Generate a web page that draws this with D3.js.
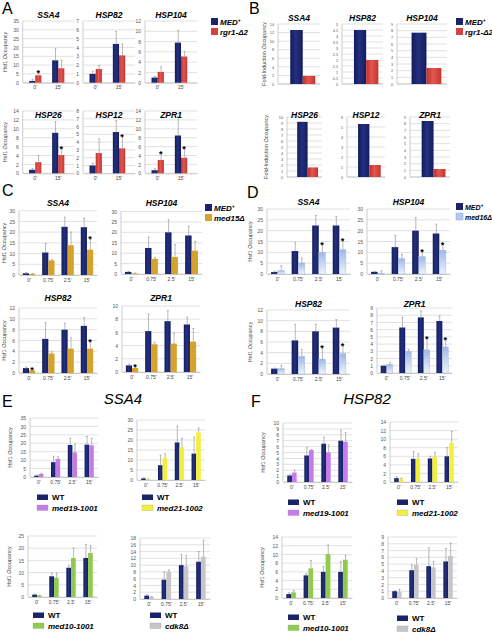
<!DOCTYPE html>
<html><head><meta charset="utf-8">
<script src="https://cdn.jsdelivr.net/npm/d3@7"></script>
<style>body{margin:0;background:#fff}svg{display:block}</style>
</head><body><svg id="c" width="492" height="633"></svg>
<script>
// ---------- DATA ----------
const catsAB = ["0'", "15'"];
const catsT = ["0'", "0.75'", "2.5'", "15'"];
// Panel A (MED+ / rgr1-Δ2) values, error tops, stars on mutant
const A_SSA4_MED = [1.0, 12.7], A_SSA4_MED_ERR = [1.8, 19.3];
const A_SSA4_MUT = [4.2, 8.2], A_SSA4_MUT_ERR = [6.0, 12.7], A_SSA4_STAR = [1, 0];
const A_HSP82_MED = [1.0, 4.4], A_HSP82_MED_ERR = [1.3, 5.8];
const A_HSP82_MUT = [1.55, 3.1], A_HSP82_MUT_ERR = [1.95, 4.4], A_HSP82_STAR = [0, 0];
const A_HSP104_MED = [1.0, 7.8], A_HSP104_MED_ERR = [1.2, 10.2];
const A_HSP104_MUT = [2.1, 5.1], A_HSP104_MUT_ERR = [3.1, 6.1], A_HSP104_STAR = [0, 0];
const A_HSP26_MED = [0.8, 9.1], A_HSP26_MED_ERR = [1.1, 11.6];
const A_HSP26_MUT = [2.5, 4.1], A_HSP26_MUT_ERR = [4.0, 5.6], A_HSP26_STAR = [0, 1];
const A_HSP12_MED = [1.0, 5.3], A_HSP12_MED_ERR = [1.3, 6.8];
const A_HSP12_MUT = [2.6, 3.2], A_HSP12_MUT_ERR = [4.4, 4.7], A_HSP12_STAR = [0, 1];
const A_ZPR1_MED = [0.7, 8.5], A_ZPR1_MED_ERR = [1.1, 12.8];
const A_ZPR1_MUT = [3.0, 3.5], A_ZPR1_MUT_ERR = [4.5, 5.5], A_ZPR1_STAR = [1, 1];
// Panel B fold induction [MED+, rgr1-Δ2]
const B_SSA4 = [12.6, 1.9];
const B_HSP82 = [4.5, 2.0];
const B_HSP104 = [7.7, 2.4];
const B_HSP26 = [9.2, 1.6];
const B_HSP12 = [5.3, 1.2];
const B_ZPR1 = [8.4, 1.2];
// Panel C (MED+ / med15Δ)
const C_SSA4_MED = [0.8, 10.5, 22.5, 22.3], C_SSA4_MED_ERR = [1.2, 14.8, 27, 26.5];
const C_SSA4_MUT = [0.5, 6.8, 13.9, 11.8], C_SSA4_MUT_ERR = [0.7, 7.2, 20, 16.8], C_SSA4_STAR = [0, 0, 0, 1];
const C_HSP104_MED = [1.0, 12.5, 20, 18.5], C_HSP104_MED_ERR = [1.2, 17.8, 26, 23];
const C_HSP104_MUT = [0.3, 7.3, 8.2, 11.2], C_HSP104_MUT_ERR = [0.5, 7.9, 14.1, 15.6], C_HSP104_STAR = [0, 0, 0, 0];
const C_HSP82_MED = [0.9, 6.3, 8.0, 8.7], C_HSP82_MED_ERR = [1.1, 9.3, 9.2, 10.2];
const C_HSP82_MUT = [0.5, 3.6, 4.5, 4.5], C_HSP82_MUT_ERR = [0.7, 3.9, 6.5, 5.9], C_HSP82_STAR = [1, 0, 0, 1];
const C_ZPR1_MED = [1.0, 6.2, 7.7, 7.2], C_ZPR1_MED_ERR = [1.2, 8.8, 9.3, 8.3];
const C_ZPR1_MUT = [0.6, 4.2, 4.3, 4.6], C_ZPR1_MUT_ERR = [0.8, 4.5, 5.9, 6.6], C_ZPR1_STAR = [1, 0, 0, 0];
// Panel D (MED+ / med16Δ)
const D_SSA4_MED = [0.9, 10.6, 22.4, 22.4], D_SSA4_MED_ERR = [1.3, 14.5, 27, 26.5];
const D_SSA4_MUT = [1.5, 5.1, 10.0, 11.2], D_SSA4_MUT_ERR = [3.8, 7.4, 13.8, 15.6], D_SSA4_STAR = [0, 0, 1, 1];
const D_HSP104_MED = [1.0, 12.4, 20, 18.7], D_HSP104_MED_ERR = [1.2, 17.8, 26, 23];
const D_HSP104_MUT = [0.3, 7.1, 8.0, 11.0], D_HSP104_MUT_ERR = [1.5, 9.2, 10.3, 13.8], D_HSP104_STAR = [0, 0, 1, 1];
const D_HSP82_MED = [1.0, 6.3, 8.0, 8.7], D_HSP82_MED_ERR = [1.1, 9.3, 9.3, 10.2];
const D_HSP82_MUT = [1.0, 3.3, 2.8, 3.8], D_HSP82_MUT_ERR = [1.6, 4.6, 4.9, 5.4], D_HSP82_STAR = [0, 0, 1, 1];
const D_ZPR1_MED = [1.0, 6.3, 7.7, 7.2], D_ZPR1_MED_ERR = [1.1, 7.7, 8.6, 7.9];
const D_ZPR1_MUT = [1.2, 3.0, 3.2, 3.6], D_ZPR1_MUT_ERR = [1.4, 3.3, 4.8, 4.7], D_ZPR1_STAR = [0, 0, 1, 1];
// Panel E (SSA4, WT / mutants)
const E_MED19_WT = [0.8, 8.8, 19, 19.2], E_MED19_WT_ERR = [1.2, 12.3, 23, 24];
const E_MED19_MUT = [1.8, 10.8, 14.6, 18.8], E_MED19_MUT_ERR = [2.2, 12.1, 19.4, 23];
const E_MED21_WT = [0.8, 7.4, 18.8, 13.2], E_MED21_WT_ERR = [1.2, 12.4, 27, 21.4];
const E_MED21_MUT = [0.3, 11, 16.4, 23.8], E_MED21_MUT_ERR = [0.5, 13.2, 20.8, 26];
const E_MED10_WT = [1.0, 8.5, 12, 16], E_MED10_WT_ERR = [1.2, 9.8, 13, 21.5];
const E_MED10_MUT = [0.6, 7.9, 16, 18], E_MED10_MUT_ERR = [0.8, 9.8, 20, 21];
const E_CDK8_WT = [1.0, 5.7, 10, 11], E_CDK8_WT_ERR = [1.3, 8, 13.2, 14];
const E_CDK8_MUT = [0.6, 8, 9.6, 12.5], E_CDK8_MUT_ERR = [0.8, 8.6, 12.8, 17.3];
// Panel F (HSP82, WT / mutants)
const F_MED19_WT = [1.1, 4.5, 6.5, 7.0], F_MED19_WT_ERR = [1.3, 5.8, 7.6, 8.8];
const F_MED19_MUT = [1.6, 5.4, 5.0, 6.8], F_MED19_MUT_ERR = [2.0, 5.5, 6.3, 8.4];
const F_MED21_WT = [0.9, 5.4, 5.5, 6.0], F_MED21_WT_ERR = [1.2, 7.1, 6.0, 8.0];
const F_MED21_MUT = [0.7, 5.5, 5.9, 9.1], F_MED21_MUT_ERR = [0.9, 6.6, 6.9, 11.8];
const F_MED10_WT = [0.9, 5.2, 6.0, 6.0], F_MED10_WT_ERR = [1.2, 5.6, 7.2, 8.4];
const F_MED10_MUT = [1.3, 6.8, 10.1, 8.8], F_MED10_MUT_ERR = [1.7, 8.6, 12.2, 9.8];
const F_CDK8_WT = [1.0, 4.1, 4.7, 5.4], F_CDK8_WT_ERR = [1.1, 4.9, 7.4, 7.3];
const F_CDK8_MUT = [0.9, 4.9, 4.5, 6.2], F_CDK8_MUT_ERR = [1.3, 5.8, 5.4, 8.1];

// ---------- STYLE ----------
const svg = d3.select("#c");
const defs = svg.append("defs");
function grad(id, stops) {
  const g = defs.append("linearGradient").attr("id", id).attr("x1", 0).attr("x2", 1).attr("y1", 0).attr("y2", 0);
  stops.forEach(s => g.append("stop").attr("offset", s[0]).attr("stop-color", s[1]));
}
grad("gNavy", [[0, "#121b5c"], [0.45, "#24307e"], [1, "#141d60"]]);
grad("gRed", [[0, "#c0302c"], [0.45, "#e25750"], [1, "#c4342f"]]);
const gv = defs.append("linearGradient").attr("id", "gBlue").attr("x1", 0).attr("x2", 0).attr("y1", 0).attr("y2", 1);
gv.append("stop").attr("offset", 0).attr("stop-color", "#9fb7e6");
gv.append("stop").attr("offset", 1).attr("stop-color", "#eef3fb");
const COL = {navy: "url(#gNavy)", red: "url(#gRed)", gold: "#d6a32a", blue: "url(#gBlue)",
  violet: "#c57ce6", yellow: "#f4ef3a", green: "#8fcb4e", gray: "#c6c6ca"};
const SOLID = {navy: "#1b2469", red: "#d4433d", gold: "#d6a32a", blue: "#b5c9ee",
  violet: "#c57ce6", yellow: "#f4ef3a", green: "#8fcb4e", gray: "#c6c6ca"};
const FONT = "Liberation Sans, Arial, sans-serif";

function chart(o) {
  const g = svg.append("g");
  const y = d3.scaleLinear().domain([0, o.max]).range([o.yBot, o.yTop]);
  const ticks = d3.range(0, o.max + o.step / 2, o.step);
  g.selectAll("line.grid").data(ticks).join("line")
    .attr("x1", o.x0).attr("x2", o.x1).attr("y1", d => y(d)).attr("y2", d => y(d))
    .attr("stroke", "#d4d4d4").attr("stroke-width", 0.7);
  g.append("line").attr("x1", o.x0).attr("x2", o.x0).attr("y1", o.yTop).attr("y2", o.yBot)
    .attr("stroke", "#b8b8b8").attr("stroke-width", 0.7);
  const ax = d3.axisLeft(y).tickValues(ticks).tickSize(0).tickPadding(4).tickFormat(d3.format("~g"));
  const ag = g.append("g").attr("transform", `translate(${o.x0},0)`).call(ax);
  ag.select(".domain").remove();
  ag.selectAll("text").attr("font-size", o.tfs || 5).attr("fill", "#555").attr("font-family", FONT);
  const x = d3.scaleBand().domain(o.cats).range([o.x0, o.x1]).paddingInner(o.pi).paddingOuter(o.po).align(o.al == null ? 0.5 : o.al);
  const bw = x.bandwidth() / o.series.length;
  if (o.showX !== false) {
    const xa = d3.axisBottom(x).tickSize(0).tickPadding(3);
    const xg = g.append("g").attr("transform", `translate(0,${o.yBot})`).call(xa);
    xg.select(".domain").attr("stroke", "#b8b8b8").attr("stroke-width", 0.7);
    xg.selectAll("text").attr("font-size", 5).attr("fill", "#444").attr("font-family", FONT);
  } else {
    g.append("line").attr("x1", o.x0).attr("x2", o.x1).attr("y1", o.yBot).attr("y2", o.yBot).attr("stroke", "#b8b8b8").attr("stroke-width", 0.7);
  }
  o.series.forEach((s, si) => {
    const data = o.cats.map((c, i) => ({c, v: s.vals[i], e: s.err ? s.err[i] : null, st: s.star ? s.star[i] : 0}));
    const bx = d => x(d.c) + si * bw;
    g.selectAll(null).data(data).join("rect")
      .attr("x", bx).attr("width", bw).attr("y", d => y(d.v)).attr("height", d => o.yBot - y(d.v))
      .attr("fill", COL[s.color]);
    if (s.color === "blue") {
      g.selectAll(null).data(data).join("rect")
        .attr("x", bx).attr("width", bw).attr("y", d => y(d.v)).attr("height", d => o.yBot - y(d.v))
        .attr("fill", "none").attr("stroke", "#9db3e0").attr("stroke-width", 0.4);
    }
    if (s.err) {
      const ex = d => bx(d) + bw * 0.55;
      g.selectAll(null).data(data).join("line")
        .attr("x1", ex).attr("x2", ex).attr("y1", d => y(d.v)).attr("y2", d => y(d.e))
        .attr("stroke", "#8a8a8a").attr("stroke-width", 0.6);
      g.selectAll(null).data(data).join("line")
        .attr("x1", d => ex(d) - 1).attr("x2", d => ex(d) + 1).attr("y1", d => y(d.e)).attr("y2", d => y(d.e))
        .attr("stroke", "#8a8a8a").attr("stroke-width", 0.6);
    }
    g.selectAll(null).data(data.filter(d => d.st)).join("text")
      .attr("x", d => bx(d) + bw / 2).attr("y", d => y(d.e) + 3.5).attr("text-anchor", "middle")
      .attr("font-size", 9).attr("font-weight", "bold").attr("font-family", FONT).text("*");
  });
  if (o.title) {
    g.append("text").attr("x", o.tx != null ? o.tx : (o.x0 + o.x1) / 2).attr("y", o.ty).attr("text-anchor", "middle")
      .attr("font-size", o.tsize || 8.5).attr("font-weight", "bold").attr("font-style", "italic")
      .attr("font-family", FONT).text(o.title);
  }
  if (o.ylab) {
    g.append("text").attr("transform", `translate(${o.ylx},${(o.yTop + o.yBot) / 2}) rotate(-90)`)
      .attr("text-anchor", "middle").attr("font-size", o.ylfs || 5.5).attr("fill", "#444").attr("font-family", FONT).text(o.ylab);
  }
}

function s(color, vals, err, star) { return {color, vals, err, star}; }

// ---------- PANEL A ----------
const Aopt = {cats: catsAB, pi: 0.47, po: 0.35, al: 0.4};
const Aylab = "Hsf1  Occupancy";
[
  {title: "SSA4", x0: 22.7, x1: 74, yTop: 21, yBot: 82.7, ty: 18, max: 35, step: 5, ylab: Aylab, ylx: 7,
   series: [s("navy", A_SSA4_MED, A_SSA4_MED_ERR), s("red", A_SSA4_MUT, A_SSA4_MUT_ERR, A_SSA4_STAR)]},
  {title: "HSP82", x0: 83, x1: 135, yTop: 21, yBot: 82.7, ty: 18, max: 7, step: 1,
   series: [s("navy", A_HSP82_MED, A_HSP82_MED_ERR), s("red", A_HSP82_MUT, A_HSP82_MUT_ERR, A_HSP82_STAR)]},
  {title: "HSP104", x0: 145, x1: 197, yTop: 21, yBot: 82.7, ty: 18, max: 12, step: 2,
   series: [s("navy", A_HSP104_MED, A_HSP104_MED_ERR), s("red", A_HSP104_MUT, A_HSP104_MUT_ERR, A_HSP104_STAR)]},
  {title: "HSP26", x0: 22.7, x1: 74, yTop: 111, yBot: 173.3, ty: 118, max: 14, step: 2, ylab: Aylab, ylx: 7,
   series: [s("navy", A_HSP26_MED, A_HSP26_MED_ERR), s("red", A_HSP26_MUT, A_HSP26_MUT_ERR, A_HSP26_STAR)]},
  {title: "HSP12", x0: 83, x1: 135, yTop: 111, yBot: 173.3, ty: 118, max: 8, step: 1,
   series: [s("navy", A_HSP12_MED, A_HSP12_MED_ERR), s("red", A_HSP12_MUT, A_HSP12_MUT_ERR, A_HSP12_STAR)]},
  {title: "ZPR1", x0: 145, x1: 197, yTop: 111, yBot: 173.3, ty: 118, max: 14, step: 2,
   series: [s("navy", A_ZPR1_MED, A_ZPR1_MED_ERR), s("red", A_ZPR1_MUT, A_ZPR1_MUT_ERR, A_ZPR1_STAR)]},
].forEach(c => chart(Object.assign({}, Aopt, c)));

// ---------- PANEL B ----------
const catsB = [""];
const Bopt = {cats: catsB, pi: 0, po: 0.34, al: 0.72, showX: false, tfs: 3.8};
const Bylab = "Fold-Induction Occupancy";
[
  {title: "SSA4", x0: 278, x1: 320, yTop: 24, yBot: 84, ty: 21, max: 14, step: 2, ylab: Bylab, ylx: 266, vals: B_SSA4},
  {title: "HSP82", x0: 342, x1: 383, yTop: 24, yBot: 84, ty: 21, max: 5, step: 0.5, vals: B_HSP82},
  {title: "HSP104", x0: 397, x1: 447, yTop: 24, yBot: 84, ty: 21, max: 9, step: 1, vals: B_HSP104},
  {title: "HSP26", x0: 287, x1: 322, yTop: 117, yBot: 177, ty: 118, max: 10, step: 1, ylab: Bylab, ylx: 268, vals: B_HSP26},
  {title: "HSP12", x0: 347, x1: 385, yTop: 117, yBot: 177, ty: 118, max: 6, step: 1, vals: B_HSP12},
  {title: "ZPR1", x0: 410, x1: 450, yTop: 117, yBot: 177, ty: 118, max: 9, step: 1, vals: B_ZPR1},
].forEach(c => {
  c.series = [s("navy", [c.vals[0]]), s("red", [c.vals[1]])];
  chart(Object.assign({}, Bopt, c));
});

// ---------- PANEL C ----------
const Copt = {cats: catsT, pi: 0.36, po: 0.2};
[
  {title: "SSA4", x0: 19, x1: 97, yTop: 210.7, yBot: 275, ty: 206, max: 30, step: 5, ylab: Aylab, ylx: 6,
   series: [s("navy", C_SSA4_MED, C_SSA4_MED_ERR), s("gold", C_SSA4_MUT, C_SSA4_MUT_ERR, C_SSA4_STAR)]},
  {title: "HSP104", x0: 121, x1: 202, yTop: 211.5, yBot: 274, ty: 206, max: 30, step: 5,
   series: [s("navy", C_HSP104_MED, C_HSP104_MED_ERR), s("gold", C_HSP104_MUT, C_HSP104_MUT_ERR, C_HSP104_STAR)]},
  {title: "HSP82", x0: 19, x1: 97, yTop: 308, yBot: 373, ty: 301, max: 12, step: 2, ylab: Aylab, ylx: 6,
   series: [s("navy", C_HSP82_MED, C_HSP82_MED_ERR), s("gold", C_HSP82_MUT, C_HSP82_MUT_ERR, C_HSP82_STAR)]},
  {title: "ZPR1", x0: 122, x1: 200, yTop: 306, yBot: 372, ty: 301, max: 10, step: 2,
   series: [s("navy", C_ZPR1_MED, C_ZPR1_MED_ERR), s("gold", C_ZPR1_MUT, C_ZPR1_MUT_ERR, C_ZPR1_STAR)]},
].forEach(c => chart(Object.assign({}, Copt, c)));

// ---------- PANEL D ----------
[
  {title: "SSA4", x0: 267, x1: 350, yTop: 209, yBot: 274, ty: 205, max: 30, step: 5, ylab: Aylab, ylx: 252,
   series: [s("navy", D_SSA4_MED, D_SSA4_MED_ERR), s("blue", D_SSA4_MUT, D_SSA4_MUT_ERR, D_SSA4_STAR)]},
  {title: "HSP104", x0: 367, x1: 450, yTop: 209, yBot: 274, ty: 205, max: 30, step: 5,
   series: [s("navy", D_HSP104_MED, D_HSP104_MED_ERR), s("blue", D_HSP104_MUT, D_HSP104_MUT_ERR, D_HSP104_STAR)]},
  {title: "HSP82", x0: 267, x1: 350, yTop: 310, yBot: 374, ty: 307, max: 12, step: 2, ylab: Aylab, ylx: 252,
   series: [s("navy", D_HSP82_MED, D_HSP82_MED_ERR), s("blue", D_HSP82_MUT, D_HSP82_MUT_ERR, D_HSP82_STAR)]},
  {title: "ZPR1", x0: 377, x1: 452, yTop: 308, yBot: 373, ty: 307, max: 9, step: 1,
   series: [s("navy", D_ZPR1_MED, D_ZPR1_MED_ERR), s("blue", D_ZPR1_MUT, D_ZPR1_MUT_ERR, D_ZPR1_STAR)]},
].forEach(c => chart(Object.assign({}, Copt, c)));

// ---------- PANELS E / F ----------
const EFopt = {cats: catsT, pi: 0.45, po: 0.25};
[
  {x0: 30, x1: 98, yTop: 418, yBot: 477, max: 35, step: 5, ylab: Aylab, ylx: 12,
   series: [s("navy", E_MED19_WT, E_MED19_WT_ERR), s("violet", E_MED19_MUT, E_MED19_MUT_ERR)]},
  {x0: 137, x1: 205, yTop: 420, yBot: 480, max: 30, step: 5,
   series: [s("navy", E_MED21_WT, E_MED21_WT_ERR), s("yellow", E_MED21_MUT, E_MED21_MUT_ERR)]},
  {x0: 28, x1: 97, yTop: 536, yBot: 597, max: 25, step: 5, ylab: Aylab, ylx: 11,
   series: [s("navy", E_MED10_WT, E_MED10_WT_ERR), s("green", E_MED10_MUT, E_MED10_MUT_ERR)]},
  {x0: 140, x1: 210, yTop: 538, yBot: 599, max: 18, step: 2,
   series: [s("navy", E_CDK8_WT, E_CDK8_WT_ERR), s("gray", E_CDK8_MUT, E_CDK8_MUT_ERR)]},
  {x0: 283, x1: 352, yTop: 423, yBot: 482, max: 10, step: 1, ylab: Aylab, ylx: 265,
   series: [s("navy", F_MED19_WT, F_MED19_WT_ERR), s("violet", F_MED19_MUT, F_MED19_MUT_ERR)]},
  {x0: 390, x1: 458, yTop: 422, yBot: 482, max: 14, step: 2,
   series: [s("navy", F_MED21_WT, F_MED21_WT_ERR), s("yellow", F_MED21_MUT, F_MED21_MUT_ERR)]},
  {x0: 282, x1: 352, yTop: 537, yBot: 598, max: 14, step: 2, ylab: Aylab, ylx: 264,
   series: [s("navy", F_MED10_WT, F_MED10_WT_ERR), s("green", F_MED10_MUT, F_MED10_MUT_ERR)]},
  {x0: 388, x1: 457, yTop: 537, yBot: 598, max: 9, step: 1,
   series: [s("navy", F_CDK8_WT, F_CDK8_WT_ERR), s("gray", F_CDK8_MUT, F_CDK8_MUT_ERR)]},
].forEach(c => chart(Object.assign({}, EFopt, c)));

// ---------- LEGENDS ----------
function legSq(x, y, items, fs) {
  fs = fs || 8;
  items.forEach((it, i) => {
    const yy = y + i * 10;
    svg.append("rect").attr("x", x).attr("y", yy).attr("width", 7).attr("height", 7).attr("fill", SOLID[it.c])
      .attr("stroke", it.c === "blue" ? "#8fa8dc" : "none").attr("stroke-width", 0.5);
    const t = svg.append("text").attr("x", x + 9).attr("y", yy + 6.5).attr("font-size", fs).attr("font-weight", "bold")
      .attr("font-style", "italic").attr("font-family", FONT);
    t.append("tspan").text(it.t);
    if (it.sup) t.append("tspan").attr("font-size", 5).attr("dy", -3).text(it.sup);
  });
}
legSq(211, 18, [{c: "navy", t: "MED", sup: "+"}, {c: "red", t: "rgr1-Δ2"}]);
legSq(456, 18, [{c: "navy", t: "MED", sup: "+"}, {c: "red", t: "rgr1-Δ2"}]);
legSq(205, 204, [{c: "navy", t: "MED", sup: "+"}, {c: "gold", t: "med15Δ"}]);
legSq(456, 203, [{c: "navy", t: "MED", sup: "+"}, {c: "blue", t: "med16Δ"}], 7);

function legWT(x, y, c, name) {
  svg.append("rect").attr("x", x).attr("y", y - 2.5).attr("width", 11).attr("height", 5.5).attr("fill", "#1b2469");
  svg.append("text").attr("x", x + 15).attr("y", y + 3).attr("font-size", 8).attr("font-weight", "bold").attr("font-family", FONT).text("WT");
  svg.append("rect").attr("x", x).attr("y", y + 8).attr("width", 11).attr("height", 5.5).attr("fill", SOLID[c])
    .attr("stroke", "#999").attr("stroke-width", 0.3);
  svg.append("text").attr("x", x + 15).attr("y", y + 13.5).attr("font-size", 8).attr("font-weight", "bold")
    .attr("font-style", "italic").attr("font-family", FONT).text(name);
}
legWT(37, 497, "violet", "med19-1001");
legWT(142, 497, "yellow", "med21-1002");
legWT(33, 615, "green", "med10-1001");
legWT(150, 615, "gray", "cdk8Δ");
legWT(288, 502, "violet", "med19-1001");
legWT(397, 502, "yellow", "med21-1002");
legWT(288, 617, "green", "med10-1001");
legWT(397, 618, "gray", "cdk8Δ");

// ---------- PANEL LETTERS & BIG TITLES ----------
[["A", 2, 14], ["B", 249, 14], ["C", 2, 196], ["D", 247, 198], ["E", 2, 407], ["F", 251, 407]].forEach(([t, x, y]) =>
  svg.append("text").attr("x", x).attr("y", y).attr("font-size", 16).attr("font-family", FONT).text(t));
svg.append("text").attr("x", 123).attr("y", 404).attr("text-anchor", "middle").attr("font-size", 15)
  .attr("font-style", "italic").attr("font-family", FONT).text("SSA4");
svg.append("text").attr("x", 367).attr("y", 404).attr("text-anchor", "middle").attr("font-size", 15)
  .attr("font-style", "italic").attr("font-family", FONT).text("HSP82");
</script></body></html>
